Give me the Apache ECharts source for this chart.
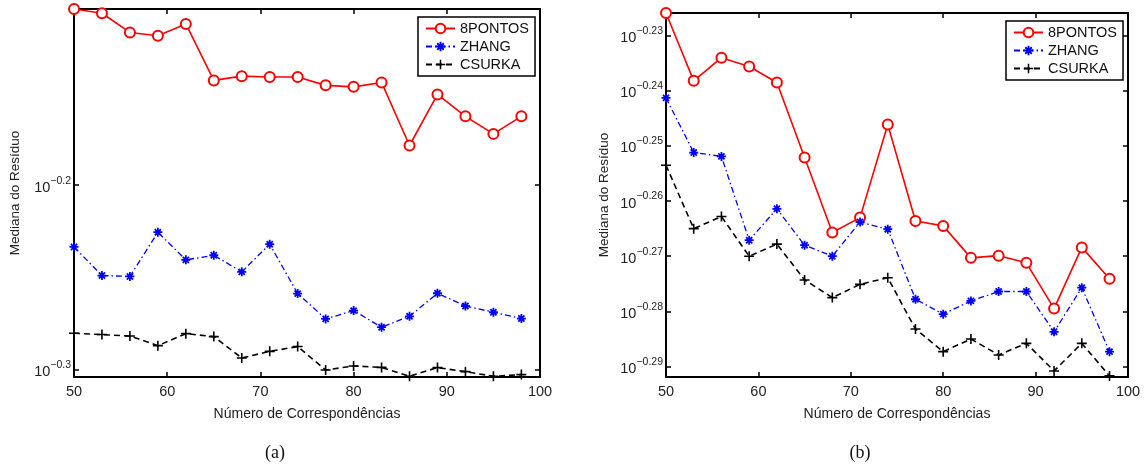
<!DOCTYPE html>
<html>
<head>
<meta charset="utf-8">
<script src="https://cdn.jsdelivr.net/npm/echarts@6/dist/echarts.min.js"></script>
<style>
  html, body { margin: 0; padding: 0; background: #fff; }
  #chart { width: 1146px; height: 470px; }
</style>
</head>
<body>
<div id="chart"></div>
<script>
// numero de correspondencias
const xVals = [50, 53, 56, 59, 62, 65, 68, 71, 74, 77, 80, 83, 86, 89, 92, 95, 98];

// expoentes (log10) da mediana do residuo, grafico (a)
const aPontos = [-0.1045, -0.1068, -0.1172, -0.1190, -0.1126, -0.1432, -0.1409, -0.1414, -0.1414,
                 -0.1459, -0.1467, -0.1443, -0.1785, -0.1508, -0.1627, -0.1722, -0.1627];
const aZhang  = [-0.2335, -0.2490, -0.2495, -0.2255, -0.2405, -0.2380, -0.2470, -0.2320, -0.2588,
                 -0.2725, -0.2680, -0.2770, -0.2711, -0.2586, -0.2655, -0.2689, -0.2723];
const aCsurka = [-0.2803, -0.2810, -0.2818, -0.2870, -0.2805, -0.2821, -0.2937, -0.2901, -0.2875,
                 -0.3002, -0.2980, -0.2988, -0.3036, -0.2989, -0.3011, -0.3036, -0.3027];

// grafico (b)
const bPontos = [-0.2259, -0.2382, -0.2340, -0.2356, -0.2385, -0.2521, -0.2657, -0.2630, -0.2461,
                 -0.2636, -0.2645, -0.2703, -0.2699, -0.2712, -0.2795, -0.2684, -0.2741];
const bZhang  = [-0.2413, -0.2512, -0.2519, -0.2671, -0.2614, -0.2680, -0.2700, -0.2638, -0.2651,
                 -0.2778, -0.2805, -0.2781, -0.2764, -0.2764, -0.2837, -0.2757, -0.2873];
const bCsurka = [-0.2535, -0.2650, -0.2628, -0.2700, -0.2678, -0.2743, -0.2775, -0.2751, -0.2739,
                 -0.2832, -0.2873, -0.2850, -0.2879, -0.2858, -0.2908, -0.2858, -0.2917];

const aTicks = [-0.3, -0.2];
const bTicks = [-0.29, -0.28, -0.27, -0.26, -0.25, -0.24, -0.23];
const names = ['8PONTOS', 'ZHANG', 'CSURKA'];

const FONT = '"Liberation Sans", Arial, sans-serif';
const starPath = 'path://M4,0h2v10h-2z M0,4h10v2h-10z M0.9,2.3L2.3,0.9L9.1,7.7L7.7,9.1z M7.7,0.9L9.1,2.3L2.3,9.1L0.9,7.7z';
const plusPath = 'path://M4.2,0h1.6v4.2h4.2v1.6h-4.2v4.2h-1.6v-4.2h-4.2v-1.6h4.2z';

function pairs(vals) {
    return xVals.map(function (x, i) { return [x, vals[i]]; });
}

function xAxes(grid) {
    const base = {
        type: 'value', gridIndex: grid, min: 50, max: 100, interval: 10,
        axisLine: { lineStyle: { color: '#000', width: 2 } },
        axisTick: { inside: true, length: 5, lineStyle: { color: '#000', width: 1.5 } },
        splitLine: { show: false }
    };
    return [
        Object.assign({}, base, {
            position: 'bottom',
            name: 'Número de Correspondências', nameLocation: 'middle', nameGap: 30,
            nameTextStyle: { color: '#222', fontSize: 14, fontFamily: FONT },
            axisLabel: { color: '#222', fontSize: 14.5, fontFamily: FONT, margin: 7 }
        }),
        Object.assign({}, base, { position: 'top', axisLabel: { show: false } })
    ];
}

function yAxes(grid, min, max, ticks, digits, gap) {
    const base = {
        type: 'value', gridIndex: grid, min: min, max: max,
        axisLine: { lineStyle: { color: '#000', width: 2 } },
        axisTick: { inside: true, length: 5, customValues: ticks, lineStyle: { color: '#000', width: 1.5 } },
        splitLine: { show: false }
    };
    return [
        Object.assign({}, base, {
            position: 'left',
            name: 'Mediana do Resíduo', nameLocation: 'middle', nameGap: gap,
            nameTextStyle: { color: '#222', fontSize: 13.5, fontFamily: FONT },
            axisLabel: {
                customValues: ticks, margin: 3,
                formatter: function (v) { return '{b|10}{s|\u2212' + Math.abs(v).toFixed(digits) + '}'; },
                rich: {
                    b: { fontSize: 14.5, fontFamily: FONT, color: '#222', lineHeight: 20, verticalAlign: 'bottom' },
                    s: { fontSize: 10.5, fontFamily: FONT, color: '#222', lineHeight: 12, verticalAlign: 'top' }
                }
            }
        }),
        Object.assign({}, base, { position: 'right', axisLabel: { show: false } })
    ];
}

function seriesFor(grid, pontos, zhang, csurka) {
    return [
        {
            name: names[0], type: 'line', xAxisIndex: grid * 2, yAxisIndex: grid * 2,
            data: pairs(pontos), symbol: 'emptyCircle', symbolSize: 10,
            lineStyle: { color: '#ff0000', width: 1.6 },
            itemStyle: { color: '#ff0000', borderColor: '#ff0000', borderWidth: 1.8 }
        },
        {
            name: names[1], type: 'line', xAxisIndex: grid * 2, yAxisIndex: grid * 2,
            data: pairs(zhang), symbol: starPath, symbolSize: 9,
            lineStyle: { color: '#0000ff', width: 1.3, type: [6, 3, 1.5, 3] },
            itemStyle: { color: '#0000ff' }
        },
        {
            name: names[2], type: 'line', xAxisIndex: grid * 2, yAxisIndex: grid * 2,
            data: pairs(csurka), symbol: plusPath, symbolSize: 10,
            lineStyle: { color: '#000', width: 1.6, type: [6, 4] },
            itemStyle: { color: '#000' }
        }
    ];
}

function legendAt(left, top) {
    return {
        data: names, orient: 'vertical', left: left, top: top,
        padding: [4, 6, 4, 7], itemWidth: 29, itemHeight: 12, itemGap: 3,
        backgroundColor: '#fff', borderColor: '#000', borderWidth: 1.5, borderRadius: 0,
        selectedMode: false,
        textStyle: { color: '#111', fontSize: 14.5, fontFamily: FONT, lineHeight: 14 }
    };
}

const chartDom = document.getElementById('chart');
const chart = echarts.getInstanceByDom(chartDom) || echarts.init(chartDom);

chart.setOption({
    animation: false,
    backgroundColor: '#fff',
    grid: [
        { left: 74, top: 9, width: 466, height: 368 },
        { left: 666, top: 13, width: 462, height: 364 }
    ],
    xAxis: xAxes(0).concat(xAxes(1)),
    yAxis: yAxes(0, -0.304, -0.1045, aTicks, 1, 52).concat(yAxes(1, -0.2919, -0.2259, bTicks, 2, 55)),
    legend: [legendAt(418, 17), legendAt(1006, 21)],
    series: seriesFor(0, aPontos, aZhang, aCsurka).concat(seriesFor(1, bPontos, bZhang, bCsurka)),
    graphic: [
        { type: 'text', x: 275, y: 453, style: { text: '(a)', fontSize: 18, fontFamily: '"Liberation Serif", serif', fill: '#111', align: 'center', verticalAlign: 'middle' } },
        { type: 'text', x: 860, y: 453, style: { text: '(b)', fontSize: 18, fontFamily: '"Liberation Serif", serif', fill: '#111', align: 'center', verticalAlign: 'middle' } }
    ]
});
</script>
</body>
</html>
